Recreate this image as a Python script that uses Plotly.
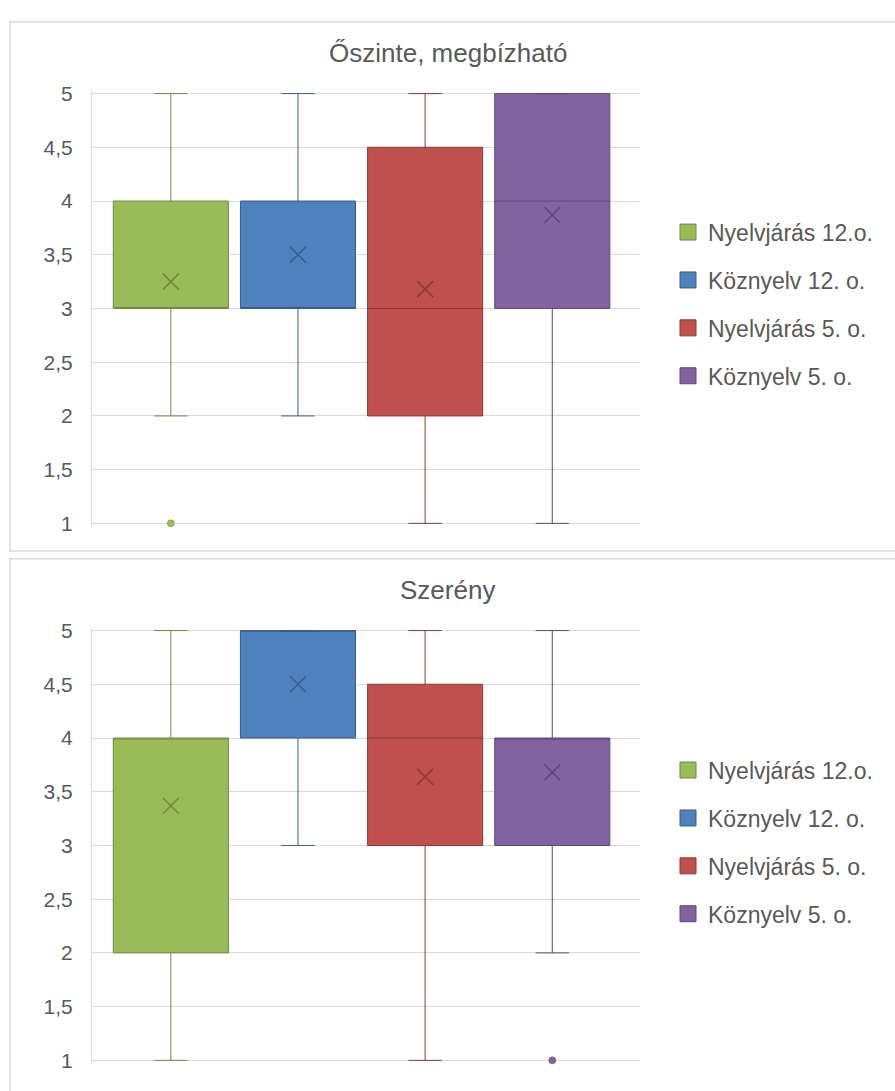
import plotly.graph_objects as go

# ---------------- data ----------------
SERIES = ["Nyelvjárás 12.o.", "Köznyelv 12. o.", "Nyelvjárás 5. o.", "Köznyelv 5. o."]
FILL = ["#9BBB59", "#4F81BD", "#C0504D", "#8064A2"]
EDGE = ["#71893F", "#385D8A", "#8C3836", "#5C4776"]

TITLE_1 = "Őszinte, megbízható"
MIN_1 = [2, 2, 1, 1]
Q1_1 = [3, 3, 2, 3]
MED_1 = [3, 3, 3, 4]
Q3_1 = [4, 4, 4.5, 5]
MAX_1 = [5, 5, 5, 5]
MEAN_1 = [3.25, 3.5, 3.18, 3.87]
OUT_1 = [[1], [], [], []]

TITLE_2 = "Szerény"
MIN_2 = [1, 3, 1, 2]
Q1_2 = [2, 4, 3, 3]
MED_2 = [4, 5, 4, 4]
Q3_2 = [4, 5, 4.5, 4]
MAX_2 = [5, 5, 5, 5]
MEAN_2 = [3.37, 4.5, 3.64, 3.68]
OUT_2 = [[], [], [], [1]]

TICK_VALS = [1, 1.5, 2, 2.5, 3, 3.5, 4, 4.5, 5]
TICK_TEXT = ["1", "1,5", "2", "2,5", "3", "3,5", "4", "4,5", "5"]

# ---------------- layout geometry ----------------
W, H = 895, 1091
FONT = "Liberation Sans, Arial, sans-serif"
TXT = "#595959"
GRID = "#D9D9D9"
YPAD = 0.02

def ydom(top_px, bot_px):
    scale = (bot_px - top_px) / 4.0
    t = top_px - YPAD * scale
    b = bot_px + YPAD * scale
    return [1 - b / H, 1 - t / H]

XDOM = [92 / W, 640 / W]
XRANGE = [-0.62, 3.69]

fig = go.Figure()

panels = [
    (TITLE_1, MIN_1, Q1_1, MED_1, Q3_1, MAX_1, MEAN_1, OUT_1, "x", "y", "legend"),
    (TITLE_2, MIN_2, Q1_2, MED_2, Q3_2, MAX_2, MEAN_2, OUT_2, "x2", "y2", "legend2"),
]

for (title, mn, q1, med, q3, mx, mean, out, xa, ya, lg) in panels:
    for i, name in enumerate(SERIES):
        grp = f"{lg}_{i}"
        fig.add_trace(go.Box(
            x=[name], q1=[q1[i]], median=[med[i]], q3=[q3[i]],
            lowerfence=[mn[i]], upperfence=[mx[i]],
            width=0.905, whiskerwidth=0.29,
            fillcolor=FILL[i], line=dict(color=EDGE[i], width=1),
            boxpoints=False, showlegend=False, legendgroup=grp,
            xaxis=xa, yaxis=ya, hoverinfo="skip", name=name,
        ))
        fig.add_trace(go.Scatter(
            x=[name], y=[mean[i]], mode="markers",
            marker=dict(symbol="x-thin", size=16, line=dict(color=EDGE[i], width=1.5)),
            showlegend=False, legendgroup=grp, xaxis=xa, yaxis=ya,
            cliponaxis=False, hoverinfo="skip", name=name,
        ))
        if out[i]:
            fig.add_trace(go.Scatter(
                x=[name] * len(out[i]), y=out[i], mode="markers",
                marker=dict(symbol="circle", size=7, color=FILL[i],
                            line=dict(color=EDGE[i], width=0.5)),
                showlegend=False, legendgroup=grp, xaxis=xa, yaxis=ya,
                cliponaxis=False, hoverinfo="skip", name=name,
            ))
        # legend entry
        fig.add_trace(go.Scatter(
            x=[None], y=[None], mode="markers", name=name,
            marker=dict(symbol="square", size=18, color=FILL[i],
                        line=dict(color=EDGE[i], width=1)),
            legend=lg, legendgroup=grp, xaxis=xa, yaxis=ya,
        ))

axis_x = dict(type="category", categoryorder="array", categoryarray=SERIES,
              range=XRANGE, showticklabels=False, showgrid=False,
              zeroline=False, showline=False, ticks="", fixedrange=True)
axis_y = dict(range=[1 - YPAD, 5 + YPAD], tickvals=TICK_VALS, ticktext=TICK_TEXT,
              showgrid=True, gridcolor=GRID, gridwidth=1,
              showline=True, linecolor=GRID, linewidth=1,
              zeroline=False, ticks="", ticklabelstandoff=14,
              tickfont=dict(family=FONT, size=21, color=TXT), fixedrange=True)

leg = dict(xanchor="left", yanchor="top", font=dict(family=FONT, size=23, color=TXT),
           tracegroupgap=15, bgcolor="rgba(0,0,0,0)", itemclick=False,
           itemdoubleclick=False)

fig.update_layout(
    width=W, height=H, margin=dict(l=0, r=0, t=0, b=0),
    paper_bgcolor="white", plot_bgcolor="white",
    font=dict(family=FONT, color=TXT),
    showlegend=True, boxmode="overlay",
    xaxis=dict(axis_x, domain=XDOM, anchor="y"),
    yaxis=dict(axis_y, domain=ydom(86, 523), anchor="x"),
    xaxis2=dict(axis_x, domain=XDOM, anchor="y2"),
    yaxis2=dict(axis_y, domain=ydom(632, 1069), anchor="x2"),
    legend=dict(leg, x=668 / W, y=1 - 205 / H),
    legend2=dict(leg, x=668 / W, y=1 - 752 / H),
    annotations=[
        dict(text=TITLE_1, x=0.5, y=1 - 45 / H, xref="paper", yref="paper",
             xanchor="center", yanchor="middle", showarrow=False,
             font=dict(family=FONT, size=26, color=TXT)),
        dict(text=TITLE_2, x=0.5, y=1 - 591 / H, xref="paper", yref="paper",
             xanchor="center", yanchor="middle", showarrow=False,
             font=dict(family=FONT, size=26, color=TXT)),
    ],
    shapes=[
        dict(type="rect", xref="paper", yref="paper", x0=10 / W, x1=1.05,
             y0=1 - 551 / H, y1=1 - 13 / H, line=dict(color=GRID, width=1.5),
             layer="below"),
        dict(type="rect", xref="paper", yref="paper", x0=10 / W, x1=1.05,
             y0=-0.05, y1=1 - 559 / H, line=dict(color=GRID, width=1.5),
             layer="below"),
    ],
)

fig.write_html("out.html",
               config={"displayModeBar": False},
               post_script="document.body.style.margin='0';document.body.style.padding='0';")
